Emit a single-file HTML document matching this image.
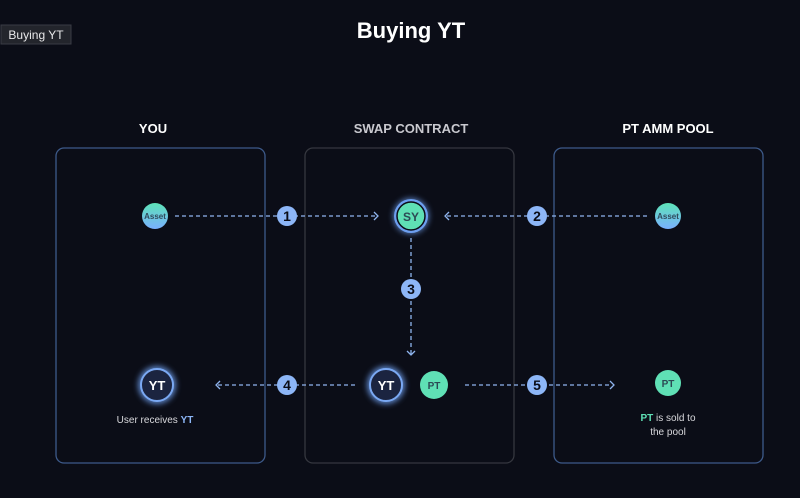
<!DOCTYPE html>
<html><head><meta charset="utf-8"><style>
html,body{margin:0;padding:0;background:#0b0d17;width:800px;height:498px;overflow:hidden}
text{font-family:"Liberation Sans",sans-serif}
</style></head><body>
<svg width="800" height="498" viewBox="0 0 800 498" xmlns="http://www.w3.org/2000/svg">
<defs>
<linearGradient id="ag" x1="0" y1="0" x2="0" y2="1"><stop offset="0" stop-color="#5de3b8"/><stop offset="1" stop-color="#7ab0ff"/></linearGradient>
<filter id="gl" x="-1" y="-1" width="3" height="3"><feGaussianBlur stdDeviation="3"/></filter>
</defs>
<rect width="800" height="498" fill="#0b0d17"/>
<rect x="1" y="25" width="70" height="19" fill="#23252c" stroke="#3a3c44" stroke-width="1"/>
<text x="36" y="39" fill="#e8e8ea" font-size="12" text-anchor="middle">Buying YT</text>
<text x="411" y="38" fill="#fff" font-size="22" font-weight="bold" text-anchor="middle">Buying YT</text>
<text x="153" y="133" fill="#fff" font-size="13" font-weight="bold" text-anchor="middle">YOU</text>
<text x="411" y="133" fill="#c9c9cf" font-size="13" font-weight="bold" text-anchor="middle">SWAP CONTRACT</text>
<text x="668" y="133" fill="#fff" font-size="13" font-weight="bold" text-anchor="middle">PT AMM POOL</text>
<rect x="56" y="148" width="209" height="315" rx="8" fill="none" stroke="#3d5a8a" stroke-width="1.3"/>
<rect x="305" y="148" width="209" height="315" rx="8" fill="none" stroke="#35373f" stroke-width="1.3"/>
<rect x="554" y="148" width="209" height="315" rx="8" fill="none" stroke="#3d5a8a" stroke-width="1.3"/>
<g stroke="#8fb4ee" stroke-width="1.3" stroke-dasharray="4 3" fill="none">
<line x1="175" y1="216" x2="377" y2="216"/>
<line x1="447" y1="216" x2="648" y2="216"/>
<line x1="411" y1="238" x2="411" y2="354"/>
<line x1="218" y1="385" x2="355" y2="385"/>
<line x1="465" y1="385" x2="612" y2="385"/>
</g>
<g stroke="#8fb4ee" stroke-width="1.3" fill="none">
<polyline points="374,212 378,216 374,220"/>
<polyline points="449,212 445,216 449,220"/>
<polyline points="407,351 411,355 415,351"/>
<polyline points="220,381 216,385 220,389"/>
<polyline points="610,381 614,385 610,389"/>
</g>
<g font-size="14" font-weight="bold" fill="#0b0d17" text-anchor="middle">
<circle cx="287" cy="216" r="10" fill="#8db6f7"/><text x="287" y="221">1</text>
<circle cx="537" cy="216" r="10" fill="#8db6f7"/><text x="537" y="221">2</text>
<circle cx="411" cy="289" r="10" fill="#8db6f7"/><text x="411" y="294">3</text>
<circle cx="287" cy="385" r="10" fill="#8db6f7"/><text x="287" y="390">4</text>
<circle cx="537" cy="385" r="10" fill="#8db6f7"/><text x="537" y="390">5</text>
</g>
<circle cx="155" cy="216" r="13" fill="url(#ag)"/>
<text x="155" y="219" font-size="8" font-weight="bold" fill="#2f4a5a" text-anchor="middle">Asset</text>
<circle cx="668" cy="216" r="13" fill="url(#ag)"/>
<text x="668" y="219" font-size="8" font-weight="bold" fill="#2f4a5a" text-anchor="middle">Asset</text>
<circle cx="411" cy="216" r="18" fill="#6fa0f0" filter="url(#gl)" opacity="0.7"/>
<circle cx="411" cy="216" r="17" fill="#6d9ff0"/>
<circle cx="411" cy="216" r="14" fill="#5fe0b5" stroke="#0b0d17" stroke-width="1.5"/>
<text x="411" y="221" font-size="12" font-weight="bold" fill="#2c4a55" text-anchor="middle">SY</text>
<circle cx="157" cy="385" r="19" fill="#6fa0f0" filter="url(#gl)" opacity="0.8"/>
<circle cx="157" cy="385" r="16" fill="#1b2440" stroke="#7aa8f2" stroke-width="2"/>
<text x="157" y="390" font-size="13" font-weight="bold" fill="#fff" text-anchor="middle">YT</text>
<circle cx="386" cy="385" r="19" fill="#6fa0f0" filter="url(#gl)" opacity="0.8"/>
<circle cx="386" cy="385" r="16" fill="#1b2440" stroke="#7aa8f2" stroke-width="2"/>
<text x="386" y="390" font-size="13" font-weight="bold" fill="#fff" text-anchor="middle">YT</text>
<circle cx="434" cy="385" r="14" fill="#5fe0b5"/>
<text x="434" y="389" font-size="10" font-weight="bold" fill="#2c4a55" text-anchor="middle">PT</text>
<circle cx="668" cy="383" r="13" fill="#5fe0b5"/>
<text x="668" y="387" font-size="10" font-weight="bold" fill="#2c4a55" text-anchor="middle">PT</text>
<text x="155" y="423" font-size="10" fill="#d8d8dc" text-anchor="middle">User receives <tspan fill="#8db6f7" font-weight="bold">YT</tspan></text>
<text x="668" y="421" font-size="10" fill="#d8d8dc" text-anchor="middle"><tspan fill="#5fe0b5" font-weight="bold">PT</tspan> is sold to</text>
<text x="668" y="435" font-size="10" fill="#d8d8dc" text-anchor="middle">the pool</text>
</svg>
</body></html>
